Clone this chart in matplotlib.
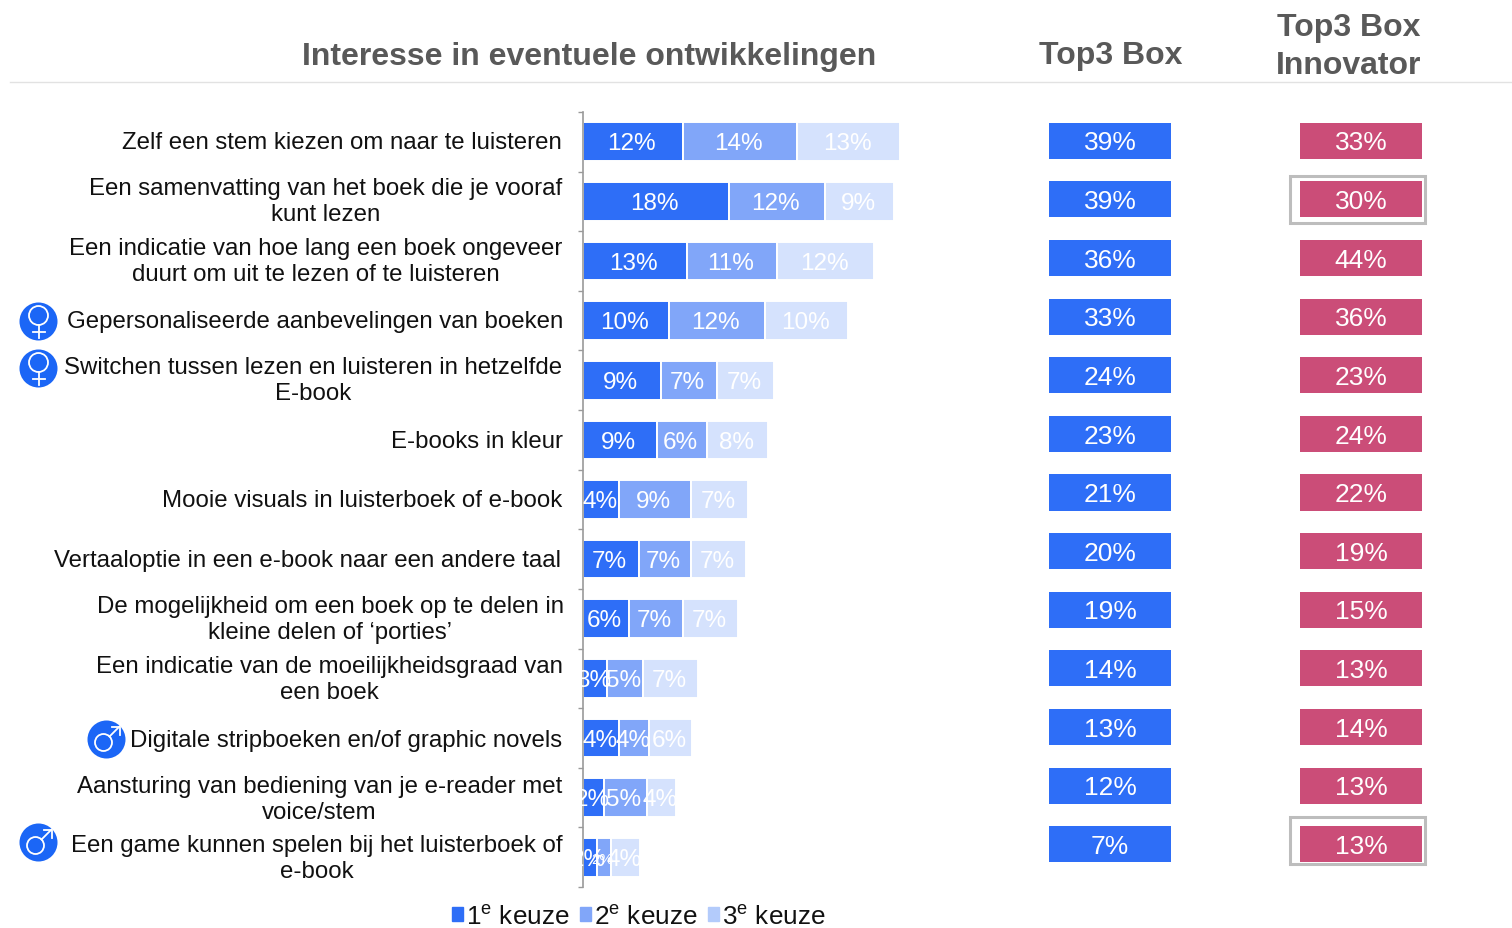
import matplotlib.pyplot as plt
from matplotlib.patches import Circle, Rectangle

plt.rcParams["font.family"] = ["Liberation Sans", "DejaVu Sans"]
plt.rcParams["mathtext.fontset"] = "custom"
plt.rcParams["mathtext.rm"] = "Liberation Sans"

W, H = 1512, 929

categories = [
    "Zelf een stem kiezen om naar te luisteren",
    "Een samenvatting van het boek die je vooraf\nkunt lezen",
    "Een indicatie van hoe lang een boek ongeveer\nduurt om uit te lezen of te luisteren",
    "Gepersonaliseerde aanbevelingen van boeken",
    "Switchen tussen lezen en luisteren in hetzelfde\nE-book",
    "E-books in kleur",
    "Mooie visuals in luisterboek of e-book",
    "Vertaaloptie in een e-book naar een andere taal",
    "De mogelijkheid om een boek op te delen in\nkleine delen of \u2018porties\u2019",
    "Een indicatie van de moeilijkheidsgraad van\neen boek",
    "Digitale stripboeken en/of graphic novels",
    "Aansturing van bediening van je e-reader met\nvoice/stem",
    "Een game kunnen spelen bij het luisterboek of\ne-book",
]
label_x = [341.5, 325.5, 316, 315.5, 313, 477, 362.5, 308, 330.5, 329.5, 346.5, 319.5, 316.5]
label_y = [143, 202, 262, 322, 381, 442, 501, 561, 620, 680, 741, 800, 859]

keuze1 = [12.5, 18.25, 13, 10.75, 9.75, 9.25, 4.5, 7, 5.75, 3, 4.5, 2.6, 1.75]
keuze2 = [14.25, 12, 11.25, 12, 7, 6.25, 9, 6.5, 6.75, 4.5, 3.75, 5.4, 1.75]
keuze3 = [12.85, 8.6, 12.1, 10.35, 7.1, 7.6, 7.1, 6.85, 6.85, 6.85, 5.35, 3.6, 3.6]

labels1 = ["12%", "18%", "13%", "10%", "9%", "9%", "4%", "7%", "6%", "3%", "4%", "2%", "2%"]
labels2 = ["14%", "12%", "11%", "12%", "7%", "6%", "9%", "7%", "7%", "5%", "4%", "5%", "2%"]
labels3 = ["13%", "9%", "12%", "10%", "7%", "8%", "7%", "7%", "7%", "7%", "6%", "4%", "4%"]

top3 = ["39%", "39%", "36%", "33%", "24%", "23%", "21%", "20%", "19%", "14%", "13%", "12%", "7%"]
innovator = ["33%", "30%", "44%", "36%", "23%", "24%", "22%", "19%", "15%", "13%", "14%", "13%", "13%"]

BLUE = "#2E6EF7"
BLUE2 = "#81A6F9"
BLUE3 = "#D5E2FD"
BLUE3_LEGEND = "#B3CBFB"
PINK = "#CB4D78"
ICON = "#1B66F6"
GREY = "#595959"


def px_axes(fig, left, top, right, bottom):
    return fig.add_axes([left / W, 1 - bottom / H, (right - left) / W, (bottom - top) / H])


def female_icon(ax, x, y):
    ax.add_patch(Circle((x, y), 19, color=ICON, lw=0))
    ax.add_patch(Circle((x, y - 6), 9.5, fill=False, ec="white", lw=1.3))
    ax.plot([x, x], [y + 3.5, y + 16], color="white", lw=1.3)
    ax.plot([x - 6, x + 6], [y + 10, y + 10], color="white", lw=1.3)


def male_icon(ax, x, y):
    ax.add_patch(Circle((x, y), 19, color=ICON, lw=0))
    ax.add_patch(Circle((x - 3, y + 3), 8.5, fill=False, ec="white", lw=1.3))
    ax.plot([x + 3, x + 13], [y - 3, y - 13], color="white", lw=1.3)
    ax.plot([x + 5, x + 13, x + 13], [y - 13, y - 13, y - 5], color="white", lw=1.3)


fig = plt.figure(figsize=(W / 100, H / 100), dpi=100)

# overlay in pixel coordinates for header, labels and icons
bg = fig.add_axes([0, 0, 1, 1])
bg.set_xlim(0, W)
bg.set_ylim(H, 0)
bg.axis("off")

bg.plot([10, W], [83, 83], color="#E2E2E2", lw=1)
bg.text(589, 56.5, "Interesse in eventuele ontwikkelingen", ha="center", va="center",
        fontsize=23, fontweight="bold", color=GREY)
bg.text(1111, 55.5, "Top3 Box", ha="center", va="center", fontsize=23, fontweight="bold", color=GREY)
bg.text(1349, 47, "Top3 Box\nInnovator", ha="center", va="center", fontsize=23,
        fontweight="bold", color=GREY, linespacing=1.32)

for x, y, name in zip(label_x, label_y, categories):
    bg.text(x, y, name, ha="center", va="center", fontsize=17.25, color="#111111", linespacing=1.27)

female_icon(bg, 38.5, 322.5)
female_icon(bg, 38.5, 369.5)
male_icon(bg, 106.5, 740.5)
male_icon(bg, 38.5, 843.5)

# gray highlight boxes around two innovator values
for y0, y1 in [(176.5, 223.5), (817.5, 864.5)]:
    bg.add_patch(Rectangle((1289.5, y0), 135, y1 - y0, fill=False, ec="#BDBDBD", lw=2.2))

# stacked bars
ax = px_axes(fig, 583, 113, 1000, 888)
ax.patch.set_alpha(0)
rows = range(len(categories))
left2 = [a for a in keuze1]
left3 = [a + b for a, b in zip(keuze1, keuze2)]
bars1 = ax.barh(rows, keuze1, height=0.65, color=BLUE, edgecolor="white", linewidth=1.4)
bars2 = ax.barh(rows, keuze2, left=left2, height=0.65, color=BLUE2, edgecolor="white", linewidth=1.4)
bars3 = ax.barh(rows, keuze3, left=left3, height=0.65, color=BLUE3, edgecolor="white", linewidth=1.4)
for bars, labels in [(bars1, labels1), (bars2, labels2), (bars3, labels3)]:
    texts = ax.bar_label(bars, labels=labels, label_type="center", color="white", fontsize=17.5)
    for t in texts:
        t.set_clip_on(True)
        t.xyann = (-1, -1.2)
ax.texts[len(categories) + 12].set_fontsize(11)

ax.set_xlim(0, 417 / 8)
ax.set_ylim(12.5, -0.5)
ax.set_xticks([])
ax.set_yticks([i - 0.5 for i in range(14)])
ax.set_yticklabels([])
ax.tick_params(axis="y", length=3.6, width=1, color="#9A9A9A")
for side in ["top", "right", "bottom"]:
    ax.spines[side].set_visible(False)
ax.spines["left"].set_color("#9A9A9A")
ax.spines["left"].set_linewidth(1.2)

# legend
handles = [
    Rectangle((0, 0), 1, 1, color=BLUE),
    Rectangle((0, 0), 1, 1, color=BLUE2),
    Rectangle((0, 0), 1, 1, color=BLUE3_LEGEND),
]
names = ["1$^{\\mathrm{e}}$ keuze", "2$^{\\mathrm{e}}$ keuze", "3$^{\\mathrm{e}}$ keuze"]
fig.legend(handles, names, ncol=3, frameon=False, fontsize=18.8, handlelength=0.42, handleheight=0.42,
           handletextpad=0.12, columnspacing=0.4, labelspacing=0,
           loc="center", bbox_to_anchor=(639 / W, 1 - 917 / H), labelcolor="#111111")

# value columns
for values, color, left, right in [(top3, BLUE, 1049, 1171), (innovator, PINK, 1300, 1422)]:
    col = px_axes(fig, left, 112.5, right, 874.5)
    col.axis("off")
    col.patch.set_alpha(0)
    b = col.barh(range(len(values)), [1] * len(values), height=0.615, color=color)
    for t in col.bar_label(b, labels=values, label_type="center", color="white", fontsize=19):
        t.xyann = (0, -1.2)
    col.set_xlim(0, 1)
    col.set_ylim(12.5, -0.5)

fig.savefig("out.png", dpi=100)
